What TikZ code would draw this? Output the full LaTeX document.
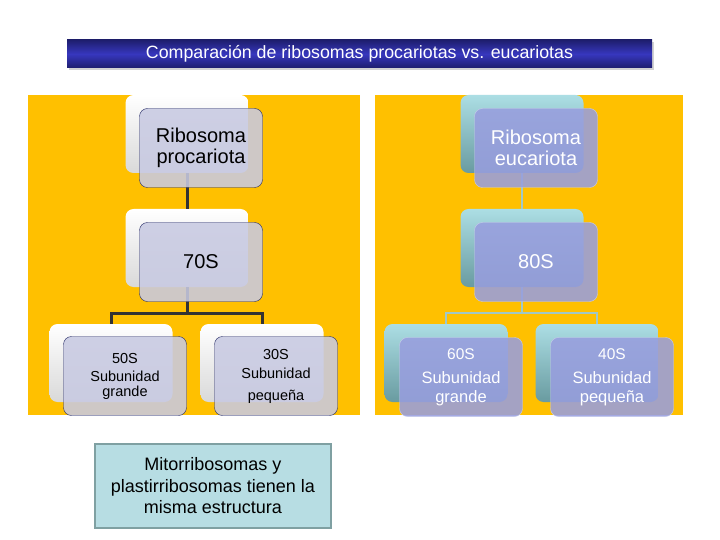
\documentclass[tikz,border=0pt]{standalone}
\usepackage{fontspec}
\setmainfont{Liberation Sans}
\usetikzlibrary{shadows}
\definecolor{panel}{RGB}{255,192,0}
\definecolor{navybar}{RGB}{30,30,110}
\definecolor{bluebar}{RGB}{55,55,190}
\definecolor{lfront}{RGB}{200,202,226}
\definecolor{lborder}{RGB}{35,40,100}
\definecolor{rfront}{RGB}{152,158,222}
\definecolor{rborder}{RGB}{200,205,235}
\definecolor{tealtop}{RGB}{172,222,228}
\definecolor{tealbot}{RGB}{105,155,160}
\definecolor{rline}{RGB}{160,200,200}
\definecolor{notefill}{RGB}{183,221,227}
\definecolor{notedraw}{RGB}{127,160,162}
\begin{document}
\begin{tikzpicture}
		[	x=1pt,y=-1pt,
		back/.style={rectangle,rounded corners=8pt,minimum width=123pt,minimum height=78pt,inner sep=0pt},
		lback/.style={back,top color=white,bottom color=gray!30},
		rback/.style={back,top color=tealtop,bottom color=tealbot},
		front/.style={rectangle,rounded corners=8pt,minimum width=123pt,minimum height=79pt,align=center,inner sep=2pt},
		lfrontbox/.style={front,fill=lfront,fill opacity=.88,text opacity=1,draw=lborder,thin,text=black},
		rfrontbox/.style={front,fill=rfront,fill opacity=.88,text opacity=1,draw=rborder,thin,text=white},
		big/.style={font=\fontsize{20}{21}\selectfont},
		lsmall/.style={font=\fontsize{14.5}{18}\selectfont},
		rsmall/.style={font=\fontsize{16.5}{19}\selectfont},
		lconn/.style={draw=black!80,line width=3pt},
		rconn/.style={draw=rline,line width=2.5pt}
		]
		\useasboundingbox (0,0) rectangle (720,540);
		\fill[white] (0,0) rectangle (720,540);
		% title
		\node[rectangle,minimum width=585pt,minimum height=28pt,top color=navybar,bottom color=navybar,middle color=bluebar,
			drop shadow={opacity=.35,shadow xshift=2pt,shadow yshift=-2pt},text=white,font=\fontsize{17.8}{19}\selectfont]
			(title) at (359.5,54){Comparación de ribosomas procariotas vs. eucariotas};
		% panels
		\fill[panel] (28,95) rectangle (360,415);
		\fill[panel] (375,95) rectangle (683,415);
		% back boxes
		\node[lback] (procB) at (187,134){};
		\node[lback] (tsB) at (187,248){};
		\node[lback] (gB) at (111,363){};
		\node[lback] (pB) at (262,363){};
		\node[rback] (eucB) at (522,134){};
		\node[rback] (oB) at (522,248){};
		\node[rback] (sB) at (446,363){};
		\node[rback] (fB) at (597,363){};
		% connectors
		\coordinate (lsplit) at (187,313);
		\coordinate (rsplit) at (522,313);
		\draw[lconn] (procB.south) -- (tsB.north);
		\draw[lconn] (tsB.south) -- (lsplit) -| (gB.north);
		\draw[lconn] (lsplit) -| (pB.north);
		\draw[rconn] (eucB.south) -- (oB.north);
		\draw[rconn] (oB.south) -- (rsplit) -| (sB.north);
		\draw[rconn] (rsplit) -| (fB.north);
		% front boxes
		\node[lfrontbox,big] (procF) at (201,148){Ribosoma\\procariota};
		\node[lfrontbox,big] (tsF) at (201,262){70S};
		\node[lfrontbox,lsmall] (gF) at (125,376){{\fontsize{14.5}{16}\selectfont 50S}\\Subunidad\\[-3pt]grande};
		\node[lfrontbox,lsmall] (pF) at (276,376){{\fontsize{14.5}{16}\selectfont 30S}\\[1pt]Subunidad\\[4pt]pequeña};
		\node[rfrontbox,big] (eucF) at (536,148){Ribosoma\\eucariota};
		\node[rfrontbox,big] (oF) at (536,262){80S};
		\node[rfrontbox,rsmall] (sF) at (461,377){{\fontsize{15.5}{17}\selectfont 60S}\\[5pt]Subunidad\\[0pt]grande};
		\node[rfrontbox,rsmall] (fF) at (612,377){{\fontsize{15.5}{17}\selectfont 40S}\\[5pt]Subunidad\\[0pt]pequeña};
		% note
		\node[rectangle,minimum width=236pt,minimum height=84pt,fill=notefill,draw=notedraw,line width=2pt,align=center,
			font=\fontsize{18}{21.5}\selectfont] (note) at (213,486){Mitorribosomas y\\plastirribosomas tienen la\\misma estructura};
	\end{tikzpicture}
\end{document}
